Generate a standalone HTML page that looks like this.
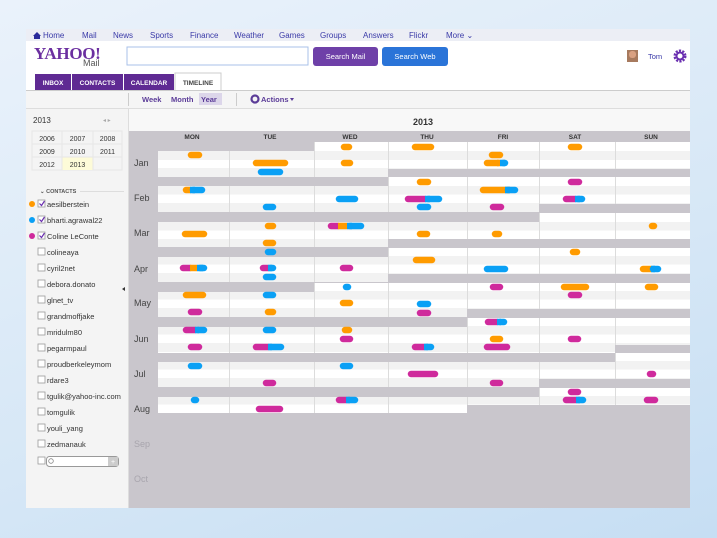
<!DOCTYPE html>
<html><head><meta charset="utf-8">
<style>
html,body{margin:0;padding:0;}
body{width:717px;height:538px;overflow:hidden;background:linear-gradient(160deg,#eaf2fb 0%,#d6e7f6 60%,#c6def3 100%);font-family:"Liberation Sans",sans-serif;position:relative;}
svg{position:absolute;left:0;top:0;}
text{font-family:"Liberation Sans",sans-serif;}
</style></head><body>
<svg width="717" height="538" viewBox="0 0 717 538" xmlns="http://www.w3.org/2000/svg">
<defs>
<clipPath id="c1"><path d="M314 142H690V169H388V177H158V151H314Z"/></clipPath>
<clipPath id="c2"><path d="M388 177H690V204H539V212H158V186H388Z"/></clipPath>
<clipPath id="c3"><path d="M539 213H690V239H388V247H158V222H539Z"/></clipPath>
<clipPath id="c4"><path d="M388 248H690V274H388V282H158V257H388Z"/></clipPath>
<clipPath id="c5"><path d="M314 283H690V309H467V317H158V292H314Z"/></clipPath>
<clipPath id="c6"><path d="M467 318H690V345H615V353H158V327H467Z"/></clipPath>
<clipPath id="c7"><path d="M615 353H690V379H539V387H158V362H615Z"/></clipPath>
<clipPath id="c8"><path d="M539 388H690V405H467V413H158V397H539Z"/></clipPath>
</defs>
<rect x="26" y="29" width="664" height="479" fill="#fff"/>
<rect x="26" y="29" width="664" height="12" fill="#eceef5"/>
<g font-size="8" fill="#3a3aa8">
<path d="M33 36 L37 32 L41 36 L40 36 L40 39 L34 39 L34 36Z" fill="#2a2a9a"/>
<text x="43" y="38">Home</text><text x="82" y="38">Mail</text><text x="113" y="38">News</text>
<text x="150" y="38">Sports</text><text x="190" y="38">Finance</text><text x="234" y="38">Weather</text>
<text x="279" y="38">Games</text><text x="320" y="38">Groups</text><text x="363" y="38">Answers</text>
<text x="409" y="38">Flickr</text><text x="446" y="38">More ⌄</text>
</g>
<text x="34" y="59" style="font-family:'Liberation Serif',serif;font-size:17px;font-weight:bold;letter-spacing:-0.3px" fill="#6b2fa0">YAHOO!</text>
<text x="83" y="66" font-size="9" fill="#555">Mail</text>
<rect x="127" y="47" width="181" height="18" fill="#fff" stroke="#a9c1e8"/>
<rect x="313" y="47" width="65" height="19" rx="3" fill="#6e40a8"/>
<text x="345.5" y="59" font-size="7.5" fill="#fff" text-anchor="middle">Search Mail</text>
<rect x="382" y="47" width="66" height="19" rx="3" fill="#2a74d8"/>
<text x="415" y="59" font-size="7.5" fill="#fff" text-anchor="middle">Search Web</text>
<rect x="627" y="50" width="11" height="12" fill="#a77a5e"/>
<rect x="629" y="51" width="7" height="7" rx="3" fill="#d9a182"/>
<text x="648" y="59" font-size="7.5" fill="#3a3aa8">Tom</text>
<circle cx="680" cy="56" r="5" fill="none" stroke="#6a2fb0" stroke-width="3" stroke-dasharray="2 1.2"/>
<circle cx="680" cy="56" r="3.5" fill="none" stroke="#6a2fb0" stroke-width="2"/>
<rect x="35" y="74" width="36" height="17" fill="#5f2a93"/>
<rect x="72" y="74" width="51" height="17" fill="#5f2a93"/>
<rect x="124" y="74" width="50" height="17" fill="#5f2a93"/>
<rect x="175" y="73" width="46" height="18" fill="#fff" stroke="#ccc"/>
<g font-size="6.5" font-weight="bold" text-anchor="middle">
<text x="53" y="85" fill="#fff">INBOX</text><text x="97.5" y="85" fill="#fff">CONTACTS</text>
<text x="149" y="85" fill="#fff">CALENDAR</text><text x="198" y="85" fill="#444">TIMELINE</text>
</g>
<line x1="26" y1="90.5" x2="690" y2="90.5" stroke="#ccc"/>
<rect x="26" y="91" width="664" height="17" fill="#f5f5f5"/>
<line x1="26" y1="108.5" x2="690" y2="108.5" stroke="#ddd"/>
<line x1="128.5" y1="93" x2="128.5" y2="106" stroke="#ccc"/>
<line x1="236.5" y1="93" x2="236.5" y2="106" stroke="#ccc"/>
<rect x="199" y="93" width="23" height="12" fill="#dcd6ea"/>
<g font-size="7.5" font-weight="bold" fill="#5b3c98">
<text x="142" y="102">Week</text><text x="171" y="102">Month</text><text x="201" y="102">Year</text>
<circle cx="255" cy="99" r="3.5" fill="none" stroke="#5b3c98" stroke-width="2.2"/>
<text x="261" y="102">Actions</text><path d="M290 98 L294 98 L292 101Z"/>
</g>
<rect x="26" y="109" width="102" height="399" fill="#f4f4f4"/>
<line x1="128.5" y1="109" x2="128.5" y2="508" stroke="#ddd"/>
<text x="33" y="123" font-size="8" fill="#333">2013</text>
<text x="103" y="122" font-size="6" fill="#aaa">◂  ▸</text>
<g stroke="#e6e6e6" fill="none"><rect x="32" y="131" width="90" height="39"/><line x1="62" y1="131" x2="62" y2="170"/><line x1="93" y1="131" x2="93" y2="170"/><line x1="32" y1="144" x2="122" y2="144"/><line x1="32" y1="157" x2="122" y2="157"/></g>
<rect x="62.5" y="157.5" width="30" height="12.5" fill="#fdfbd8"/>
<g font-size="7" fill="#333" text-anchor="middle">
<text x="47" y="141">2006</text><text x="77.5" y="141">2007</text><text x="107.5" y="141">2008</text>
<text x="47" y="154">2009</text><text x="77.5" y="154">2010</text><text x="107.5" y="154">2011</text>
<text x="47" y="167">2012</text><text x="77.5" y="167">2013</text>
</g>
<line x1="80" y1="191.5" x2="124" y2="191.5" stroke="#ddd"/>
<text x="40" y="193" font-size="5.5" font-weight="bold" fill="#555">⌄ CONTACTS</text>
<circle cx="32" cy="204" r="3" fill="#f90"/><circle cx="32" cy="220" r="3" fill="#0aa0f5"/><circle cx="32" cy="236" r="3" fill="#cf2a9c"/>
<g fill="#fff" stroke="#999" stroke-width="0.8">
<rect x="38" y="200" width="7" height="7"/><rect x="38" y="216" width="7" height="7"/><rect x="38" y="232" width="7" height="7"/>
<rect x="38" y="248" width="7" height="7"/><rect x="38" y="264" width="7" height="7"/><rect x="38" y="280" width="7" height="7"/>
<rect x="38" y="296" width="7" height="7"/><rect x="38" y="312" width="7" height="7"/><rect x="38" y="328" width="7" height="7"/>
<rect x="38" y="344" width="7" height="7"/><rect x="38" y="360" width="7" height="7"/><rect x="38" y="376" width="7" height="7"/>
<rect x="38" y="392" width="7" height="7"/><rect x="38" y="408" width="7" height="7"/><rect x="38" y="424" width="7" height="7"/>
<rect x="38" y="440" width="7" height="7"/><rect x="38" y="457" width="7" height="7"/>
</g>
<g fill="none" stroke="#6a2fb0" stroke-width="1.2"><path d="M39.5 203.5l2 2 3-4.5"/><path d="M39.5 219.5l2 2 3-4.5"/><path d="M39.5 235.5l2 2 3-4.5"/></g>
<g font-size="7.5" fill="#333">
<text x="47" y="207">aesilberstein</text><text x="47" y="223">bharti.agrawal22</text><text x="47" y="239">Coline LeConte</text>
<text x="47" y="255">colineaya</text><text x="47" y="271">cyril2net</text><text x="47" y="287">debora.donato</text>
<text x="47" y="303">glnet_tv</text><text x="47" y="319">grandmoffjake</text><text x="47" y="335">mridulm80</text>
<text x="47" y="351">pegarmpaul</text><text x="47" y="367">proudberkeleymom</text><text x="47" y="383">rdare3</text>
<text x="47" y="399">tgulik@yahoo-inc.com</text><text x="47" y="415">tomgulik</text><text x="47" y="431">youli_yang</text>
<text x="47" y="447">zedmanauk</text>
</g>
<rect x="46.5" y="456.5" width="72" height="10" rx="3" fill="#fff" stroke="#999"/>
<rect x="108" y="457" width="10" height="9" fill="#ccc"/><text x="113" y="464" font-size="7" fill="#fff" text-anchor="middle">+</text>
<circle cx="51" cy="461" r="2.3" fill="none" stroke="#888" stroke-width="0.8"/>
<path d="M125 287 L122 289 L125 291Z" fill="#333"/>
<rect x="129" y="109" width="561" height="22" fill="#f8f8f8"/>
<text x="423" y="125" font-size="9" font-weight="bold" fill="#333" text-anchor="middle">2013</text>
<rect x="129" y="131" width="561" height="377" fill="#c9c6cc"/>
<g font-size="6.5" font-weight="bold" fill="#333" text-anchor="middle">
<text x="192" y="139">MON</text><text x="270" y="139">TUE</text><text x="350" y="139">WED</text><text x="427" y="139">THU</text>
<text x="503" y="139">FRI</text><text x="575" y="139">SAT</text><text x="651" y="139">SUN</text>
</g>
<g font-size="9" fill="#444">
<text x="134" y="166">Jan</text><text x="134" y="201">Feb</text><text x="134" y="236">Mar</text><text x="134" y="272">Apr</text>
<text x="134" y="306">May</text><text x="134" y="342">Jun</text><text x="134" y="377">Jul</text><text x="134" y="412">Aug</text>
<text x="134" y="447" fill="#a8a5ad">Sep</text><text x="134" y="482" fill="#a8a5ad">Oct</text>
</g>
<g>
<g clip-path="url(#c1)"><rect x="158" y="142" width="532" height="36" fill="#fff"/><rect x="158" y="151" width="532" height="9" fill="#f2f2f2"/><rect x="158" y="168" width="532" height="9" fill="#f2f2f2"/></g>
<g clip-path="url(#c2)"><rect x="158" y="177" width="532" height="36" fill="#fff"/><rect x="158" y="186" width="532" height="8.5" fill="#f2f2f2"/><rect x="158" y="203" width="532" height="9" fill="#f2f2f2"/></g>
<g clip-path="url(#c3)"><rect x="158" y="213" width="532" height="36" fill="#fff"/><rect x="158" y="222" width="532" height="8.5" fill="#f2f2f2"/><rect x="158" y="239" width="532" height="9" fill="#f2f2f2"/></g>
<g clip-path="url(#c4)"><rect x="158" y="248" width="532" height="36" fill="#fff"/><rect x="158" y="256" width="532" height="8.5" fill="#f2f2f2"/><rect x="158" y="273" width="532" height="9" fill="#f2f2f2"/></g>
<g clip-path="url(#c5)"><rect x="158" y="283" width="532" height="36" fill="#fff"/><rect x="158" y="291" width="532" height="8.5" fill="#f2f2f2"/><rect x="158" y="308" width="532" height="9" fill="#f2f2f2"/></g>
<g clip-path="url(#c6)"><rect x="158" y="318" width="532" height="36" fill="#fff"/><rect x="158" y="326" width="532" height="8.5" fill="#f2f2f2"/><rect x="158" y="343" width="532" height="9" fill="#f2f2f2"/></g>
<g clip-path="url(#c7)"><rect x="158" y="353" width="532" height="36" fill="#fff"/><rect x="158" y="361" width="532" height="8.5" fill="#f2f2f2"/><rect x="158" y="378" width="532" height="9" fill="#f2f2f2"/></g>
<g clip-path="url(#c8)"><rect x="158" y="388" width="532" height="26" fill="#fff"/><rect x="158" y="396" width="532" height="8.5" fill="#f2f2f2"/></g>
</g>
<g stroke="#dcdcdc" stroke-width="1">
<line x1="229.5" y1="142" x2="229.5" y2="414"/><line x1="314.5" y1="142" x2="314.5" y2="414"/><line x1="388.5" y1="142" x2="388.5" y2="414"/>
<line x1="467.5" y1="142" x2="467.5" y2="414"/><line x1="539.5" y1="142" x2="539.5" y2="414"/><line x1="615.5" y1="142" x2="615.5" y2="414"/>
</g>
<g fill="#c9c6cc">
<path d="M158 142H314V151H158Z"/><path d="M388 169H690V177H388Z M158 177H388V186H158Z"/>
<path d="M539 204H690V213H539Z M158 212H539V222H158Z"/>
<path d="M388 239H690V248H388Z M158 247H388V257H158Z"/>
<path d="M388 274H690V283H388Z M158 282H314V292H158Z M314 282H388V283H314Z"/>
<path d="M467 309H690V318H467Z M158 317H467V327H158Z"/>
<path d="M615 345H690V353H615Z M158 353H615V362H158Z"/>
<path d="M539 379H690V388H539Z M158 387H539V397H158Z"/>
<path d="M467 405H690V508H467Z M158 413H467V508H158Z"/>
</g>
<g stroke-linecap="round" stroke-width="6.5">
<g stroke="#ff9b00">
<line x1="191" y1="155" x2="199" y2="155"/><line x1="256" y1="163" x2="285" y2="163"/><line x1="344" y1="147" x2="349" y2="147"/>
<line x1="344" y1="163" x2="350" y2="163"/><line x1="415" y1="147" x2="431" y2="147"/><line x1="492" y1="155" x2="500" y2="155"/>
<line x1="487" y1="163" x2="498" y2="163"/><line x1="571" y1="147" x2="579" y2="147"/>
<line x1="420" y1="182" x2="428" y2="182"/><line x1="483" y1="190" x2="508" y2="190"/><line x1="186" y1="190" x2="190" y2="190"/>
<line x1="268" y1="226" x2="273" y2="226"/><line x1="185" y1="234" x2="204" y2="234"/><line x1="266" y1="243" x2="273" y2="243"/>
<line x1="420" y1="234" x2="427" y2="234"/><line x1="495" y1="234" x2="499" y2="234"/><line x1="652" y1="226" x2="654" y2="226"/>
<line x1="573" y1="252" x2="577" y2="252"/><line x1="416" y1="260" x2="432" y2="260"/><line x1="643" y1="269" x2="651" y2="269"/>
<line x1="564" y1="287" x2="586" y2="287"/><line x1="648" y1="287" x2="655" y2="287"/><line x1="186" y1="295" x2="203" y2="295"/>
<line x1="343" y1="303" x2="350" y2="303"/><line x1="268" y1="312" x2="273" y2="312"/>
<line x1="345" y1="330" x2="349" y2="330"/><line x1="493" y1="339" x2="500" y2="339"/>
</g>
<g stroke="#0aa0f5">
<line x1="261" y1="172" x2="280" y2="172"/><line x1="503" y1="163" x2="505" y2="163"/>
<line x1="508" y1="190" x2="515" y2="190"/><line x1="428" y1="199" x2="439" y2="199"/><line x1="578" y1="199" x2="582" y2="199"/>
<line x1="420" y1="207" x2="428" y2="207"/><line x1="193" y1="190" x2="202" y2="190"/><line x1="339" y1="199" x2="355" y2="199"/>
<line x1="266" y1="207" x2="273" y2="207"/><line x1="350" y1="226" x2="361" y2="226"/>
<line x1="268" y1="252" x2="273" y2="252"/><line x1="200" y1="268" x2="204" y2="268"/><line x1="270" y1="268" x2="273" y2="268"/>
<line x1="266" y1="277" x2="273" y2="277"/><line x1="487" y1="269" x2="505" y2="269"/><line x1="653" y1="269" x2="658" y2="269"/>
<line x1="346" y1="287" x2="348" y2="287"/><line x1="266" y1="295" x2="273" y2="295"/><line x1="420" y1="304" x2="428" y2="304"/>
<line x1="500" y1="322" x2="504" y2="322"/><line x1="198" y1="330" x2="204" y2="330"/><line x1="266" y1="330" x2="273" y2="330"/>
<line x1="270" y1="347" x2="281" y2="347"/><line x1="426" y1="347" x2="431" y2="347"/>
<line x1="191" y1="366" x2="199" y2="366"/><line x1="343" y1="366" x2="350" y2="366"/>
<line x1="194" y1="400" x2="196" y2="400"/><line x1="348" y1="400" x2="355" y2="400"/><line x1="578" y1="400" x2="583" y2="400"/>
</g>
<g stroke="#cf2a9c">
<line x1="408" y1="199" x2="425" y2="199"/><line x1="571" y1="182" x2="579" y2="182"/><line x1="566" y1="199" x2="575" y2="199"/>
<line x1="493" y1="207" x2="501" y2="207"/><line x1="331" y1="226" x2="338" y2="226"/>
<line x1="183" y1="268" x2="190" y2="268"/><line x1="263" y1="268" x2="268" y2="268"/><line x1="343" y1="268" x2="350" y2="268"/>
<line x1="493" y1="287" x2="500" y2="287"/><line x1="571" y1="295" x2="579" y2="295"/><line x1="191" y1="312" x2="199" y2="312"/>
<line x1="420" y1="313" x2="428" y2="313"/>
<line x1="488" y1="322" x2="497" y2="322"/><line x1="186" y1="330" x2="195" y2="330"/><line x1="343" y1="339" x2="350" y2="339"/>
<line x1="571" y1="339" x2="578" y2="339"/><line x1="191" y1="347" x2="199" y2="347"/><line x1="256" y1="347" x2="268" y2="347"/>
<line x1="415" y1="347" x2="424" y2="347"/><line x1="487" y1="347" x2="507" y2="347"/>
<line x1="411" y1="374" x2="435" y2="374"/><line x1="650" y1="374" x2="653" y2="374"/><line x1="266" y1="383" x2="273" y2="383"/>
<line x1="493" y1="383" x2="500" y2="383"/>
<line x1="571" y1="392" x2="578" y2="392"/><line x1="339" y1="400" x2="346" y2="400"/><line x1="566" y1="400" x2="576" y2="400"/>
<line x1="647" y1="400" x2="655" y2="400"/><line x1="259" y1="409" x2="280" y2="409"/>
</g>
<g stroke="#ff9b00" stroke-linecap="butt">
<line x1="190" y1="268" x2="197" y2="268"/><line x1="338" y1="226" x2="347" y2="226"/><line x1="497" y1="163" x2="500" y2="163"/>
</g>
<g stroke="#0aa0f5" stroke-linecap="butt">
<line x1="197" y1="268" x2="203" y2="268"/><line x1="190" y1="190" x2="195" y2="190"/><line x1="505" y1="190" x2="510" y2="190"/>
<line x1="500" y1="163" x2="505" y2="163"/><line x1="425" y1="199" x2="430" y2="199"/><line x1="575" y1="199" x2="580" y2="199"/>
<line x1="347" y1="226" x2="352" y2="226"/><line x1="268" y1="268" x2="272" y2="268"/><line x1="651" y1="269" x2="655" y2="269"/>
<line x1="497" y1="322" x2="501" y2="322"/><line x1="195" y1="330" x2="199" y2="330"/><line x1="268" y1="347" x2="272" y2="347"/>
<line x1="424" y1="347" x2="428" y2="347"/><line x1="346" y1="400" x2="350" y2="400"/><line x1="576" y1="400" x2="580" y2="400"/>
</g>
</g>
</svg>
</body></html>
